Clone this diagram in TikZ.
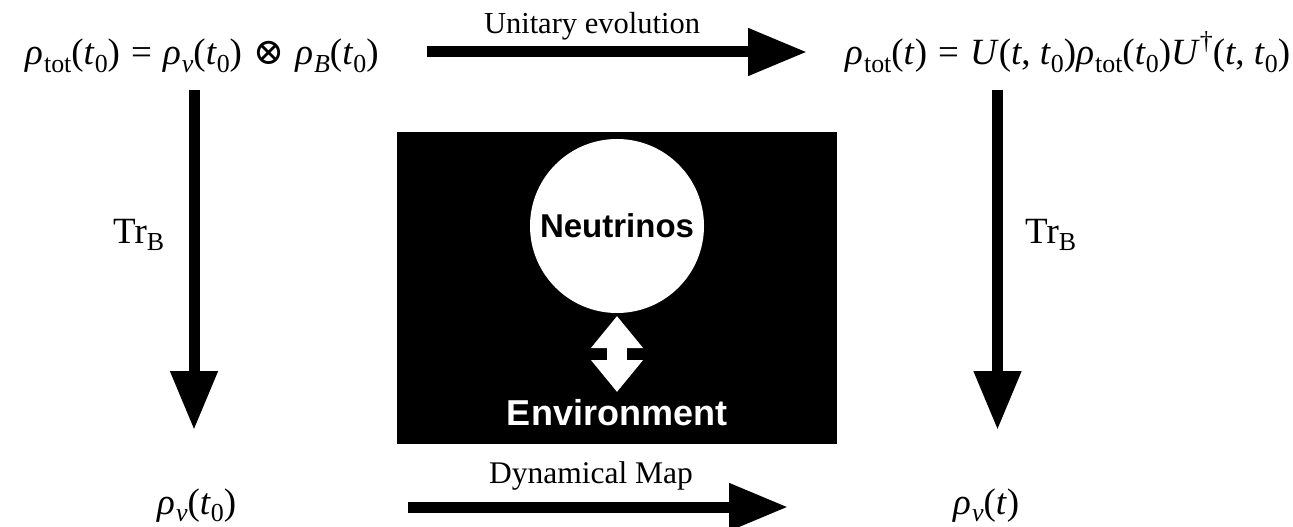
\documentclass[tikz,border=0pt]{standalone}
\usepackage{fontspec}
\setmainfont{Liberation Serif}
\newfontfamily\helv{Liberation Sans}
\newfontfamily\djv{DejaVu Serif}
\usetikzlibrary{arrows.meta}
\newcommand\sbs[1]{\raisebox{-0.2em}{\fontsize{0.7em}{0.7em}\selectfont #1}}
\newcommand\sps[1]{\raisebox{0.42em}{\fontsize{0.7em}{0.7em}\selectfont #1}}
\newcommand\mi[1]{\textit{#1}}
\newcommand\rh{\mi{ρ}\kern0.03em}
\newcommand\eqs{\hspace{0.3em}=\hspace{0.3em}}
\tikzset{
  formula/.style={inner sep=0pt, font=\fontsize{37}{40}\selectfont},
  lbl/.style={inner sep=0pt, font=\fontsize{30.5}{33}\selectfont},
  bigarrow/.style={line width=11pt, -{Triangle[length=59pt,width=45pt]}},
  sanslbl/.style={inner sep=0pt, font=\helv\bfseries\fontsize{#1}{#1}\selectfont},
}
\begin{document}
\begin{tikzpicture}[x=1pt,y=-1pt]
\useasboundingbox (0,0) rectangle (1293,527);
% formulas
\node[formula, anchor=base west] (tl) at (25,65) {\rh\sbs{tot}(\mi{t}\sbs{0})\eqs\rh\sbs{\mi{ν}}(\mi{t}\sbs{0})\hspace{0.3em}{\djv ⊗}\hspace{0.3em}\rh\sbs{\mi{B}}(\mi{t}\sbs{0})};
\node[formula, anchor=base west] (tr) at (845,65) {\rh\sbs{tot}(\mi{t})\eqs\mi{U}(\mi{t}, \mi{t}\sbs{0})\rh\sbs{tot}(\mi{t}\sbs{0})\mi{U}\sps{†}(\mi{t}, \mi{t}\sbs{0})};
\node[formula, anchor=base west] (bl) at (157,514) {\rh\sbs{\mi{ν}}(\mi{t}\sbs{0})};
\node[formula, anchor=base west] (br) at (953,514) {\rh\sbs{\mi{ν}}(\mi{t})};
% black box
\node[fill=black, minimum width=440pt, minimum height=312pt, inner sep=0pt] (box) at (617,288) {};
\node[circle, fill=white, minimum size=174pt, inner sep=0pt, sanslbl=33] (nu) at (617,226) {Neutrinos};
\node[sanslbl=36, text=white, anchor=base] (env) at (617,425) {Environment};
% arrow endpoints
\coordinate (a1) at (427,52); \coordinate (a2) at (807,52);
\coordinate (b1) at (408,507); \coordinate (b2) at (788,507);
\coordinate (c1) at (194,90); \coordinate (c2) at (194,430);
\coordinate (d1) at (997.5,90); \coordinate (d2) at (997.5,430);
\coordinate (e1) at (617,316); \coordinate (e2) at (617,392);
\draw[bigarrow] (a1) -- (a2);
\draw[bigarrow] (b1) -- (b2);
\node[lbl, anchor=base] (ue) at (592,34) {Unitary evolution};
\node[lbl, anchor=base] (dm) at (591,483) {\fontsize{31.5}{33}\selectfont Dynamical Map};
\draw[bigarrow] (c1) -- (c2);
\draw[bigarrow] (d1) -- (d2);
\node[formula, anchor=base west] (tr1) at (113,243) {Tr\sbs{B}};
\node[formula, anchor=base west] (tr2) at (1025,243) {Tr\sbs{B}};
\draw[white, line width=20pt, {Triangle[length=32pt,width=50pt]}-{Triangle[length=32pt,width=50pt]}] (e1) -- (e2);
\end{tikzpicture}
\end{document}
